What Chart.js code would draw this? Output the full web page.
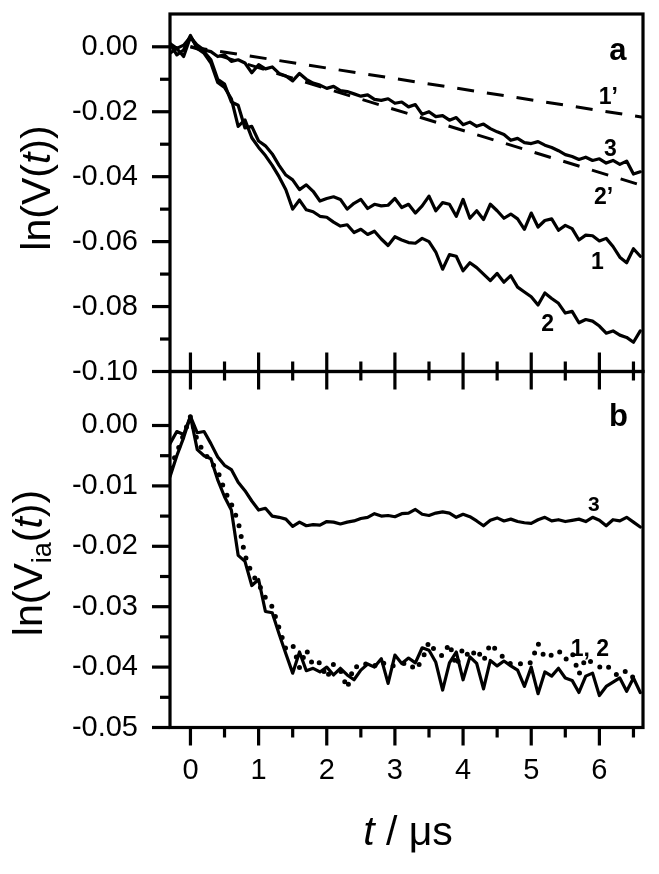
<!DOCTYPE html>
<html><head><meta charset="utf-8">
<script src="https://cdn.jsdelivr.net/npm/chart.js@4.4.0/dist/chart.umd.min.js"></script>
<style>
html,body{margin:0;padding:0;background:#fff;}
#wrap{position:relative;width:659px;height:874px;overflow:hidden;background:#fff;}
canvas{position:absolute;left:0;}
#cTop{top:0;}
#cBot{top:340px;}
</style></head><body>
<div id="wrap"><canvas id="cTop" width="659" height="400"></canvas><canvas id="cBot" width="659" height="534"></canvas></div>
<script>
// ---------- data ----------
const times = [-0.3,-0.2,-0.1,0.0,0.1,0.2,0.3,0.4,0.5,0.6,
  0.7,0.8,0.9,1.0,1.1,1.2,1.3,1.4,1.5,1.6,
  1.7,1.8,1.9,2.0,2.1,2.2,2.3,2.4,2.5,2.6,
  2.7,2.8,2.9,3.0,3.1,3.2,3.3,3.4,3.5,3.6,
  3.7,3.8,3.9,4.0,4.1,4.2,4.3,4.4,4.5,4.6,
  4.7,4.8,4.9,5.0,5.1,5.2,5.3,5.4,5.5,5.6,
  5.7,5.8,5.9,6.0,6.1,6.2,6.3,6.4,6.5,6.6];

// panel a
const a1 = [-0.0020,-0.0005,-0.0030,0.0030,0.0000,-0.0015,-0.0040,-0.0100,-0.0115,-0.0170,
  -0.0180,-0.0250,-0.0245,-0.0290,-0.0305,-0.0330,-0.0365,-0.0395,-0.0410,-0.0440,
  -0.0425,-0.0445,-0.0475,-0.0467,-0.0462,-0.0470,-0.0500,-0.0482,-0.0470,-0.0498,
  -0.0485,-0.0490,-0.0488,-0.0467,-0.0495,-0.0485,-0.0512,-0.0490,-0.0460,-0.0505,
  -0.0480,-0.0485,-0.0522,-0.0470,-0.0528,-0.0505,-0.0532,-0.0485,-0.0505,-0.0528,
  -0.0515,-0.0530,-0.0562,-0.0512,-0.0555,-0.0535,-0.0530,-0.0565,-0.0550,-0.0560,
  -0.0595,-0.0580,-0.0582,-0.0598,-0.0590,-0.0615,-0.0648,-0.0665,-0.0622,-0.0645];
const a2 = [0.0010,-0.0025,-0.0010,0.0035,-0.0005,-0.0020,-0.0050,-0.0110,-0.0125,-0.0160,
  -0.0245,-0.0225,-0.0280,-0.0310,-0.0335,-0.0365,-0.0400,-0.0440,-0.0500,-0.0472,
  -0.0502,-0.0508,-0.0522,-0.0525,-0.0540,-0.0552,-0.0548,-0.0572,-0.0562,-0.0578,
  -0.0568,-0.0592,-0.0612,-0.0585,-0.0595,-0.0603,-0.0605,-0.0590,-0.0600,-0.0632,
  -0.0685,-0.0640,-0.0645,-0.0690,-0.0665,-0.0680,-0.0700,-0.0720,-0.0698,-0.0725,
  -0.0705,-0.0740,-0.0755,-0.0770,-0.0795,-0.0758,-0.0775,-0.0790,-0.0820,-0.0815,
  -0.0850,-0.0840,-0.0845,-0.0860,-0.0882,-0.0875,-0.0888,-0.0895,-0.0910,-0.0875];
const a3 = [0.0010,-0.0005,0.0005,0.0030,0.0005,-0.0010,-0.0015,-0.0030,-0.0025,-0.0045,
  -0.0040,-0.0050,-0.0080,-0.0055,-0.0068,-0.0062,-0.0082,-0.0090,-0.0105,-0.0082,
  -0.0100,-0.0112,-0.0118,-0.0128,-0.0122,-0.0135,-0.0138,-0.0145,-0.0152,-0.0148,
  -0.0162,-0.0165,-0.0160,-0.0174,-0.0170,-0.0185,-0.0178,-0.0208,-0.0200,-0.0215,
  -0.0212,-0.0226,-0.0218,-0.0240,-0.0232,-0.0245,-0.0238,-0.0252,-0.0262,-0.0270,
  -0.0288,-0.0282,-0.0295,-0.0298,-0.0292,-0.0303,-0.0310,-0.0320,-0.0332,-0.0338,
  -0.0347,-0.0340,-0.0350,-0.0345,-0.0358,-0.0350,-0.0362,-0.0352,-0.0392,-0.0385];
const fitTimes = [0.0, 6.64];
const fit1 = [0.0000, -0.0217];
const fit2 = [0.0000, -0.0428];

// panel b
const b3 = [-0.0030,-0.0010,-0.0015,0.0015,-0.0012,-0.0010,-0.0030,-0.0052,-0.0066,-0.0073,
  -0.0094,-0.0108,-0.0125,-0.0140,-0.0137,-0.0150,-0.0152,-0.0155,-0.0167,-0.0160,
  -0.0166,-0.0164,-0.0165,-0.0159,-0.0160,-0.0163,-0.0160,-0.0158,-0.0154,-0.0152,
  -0.0146,-0.0150,-0.0149,-0.0151,-0.0146,-0.0145,-0.0139,-0.0147,-0.0149,-0.0145,
  -0.0143,-0.0145,-0.0152,-0.0147,-0.0151,-0.0158,-0.0166,-0.0157,-0.0153,-0.0158,
  -0.0155,-0.0159,-0.0161,-0.0162,-0.0156,-0.0152,-0.0158,-0.0156,-0.0159,-0.0157,
  -0.0155,-0.0159,-0.0152,-0.0157,-0.0166,-0.0156,-0.0158,-0.0152,-0.0160,-0.0168];
const b1 = [-0.0085,-0.0050,-0.0020,0.0015,-0.0040,-0.0050,-0.0055,-0.0090,-0.0118,-0.0140,
  -0.0215,-0.0225,-0.0265,-0.0255,-0.0308,-0.0310,-0.0345,-0.0378,-0.0410,-0.0375,
  -0.0406,-0.0402,-0.0408,-0.0400,-0.0413,-0.0402,-0.0413,-0.0421,-0.0405,-0.0395,
  -0.0400,-0.0386,-0.0427,-0.0380,-0.0394,-0.0385,-0.0393,-0.0368,-0.0372,-0.0392,
  -0.0438,-0.0393,-0.0375,-0.0421,-0.0383,-0.0394,-0.0436,-0.0389,-0.0398,-0.0390,
  -0.0398,-0.0405,-0.0432,-0.0400,-0.0444,-0.0408,-0.0415,-0.0402,-0.0418,-0.0422,
  -0.0442,-0.0415,-0.0410,-0.0447,-0.0432,-0.0425,-0.0418,-0.0440,-0.0418,-0.0442];
const b2 = [-0.0070,-0.0045,-0.0015,0.0015,-0.0025,-0.0045,-0.0060,-0.0075,-0.0107,-0.0130,
  -0.0159,-0.0215,-0.0245,-0.0262,-0.0285,-0.0300,-0.0335,-0.0370,-0.0363,-0.0401,
  -0.0371,-0.0398,-0.0392,-0.0418,-0.0395,-0.0405,-0.0435,-0.0398,-0.0402,-0.0392,
  -0.0398,-0.0390,-0.0400,-0.0397,-0.0395,-0.0392,-0.0405,-0.0388,-0.0358,-0.0375,
  -0.0382,-0.0361,-0.0398,-0.0368,-0.0385,-0.0370,-0.0390,-0.0361,-0.0373,-0.0385,
  -0.0395,-0.0392,-0.0398,-0.0392,-0.0361,-0.0385,-0.0380,-0.0372,-0.0388,-0.0376,
  -0.0412,-0.0385,-0.0393,-0.0400,-0.0395,-0.0410,-0.0415,-0.0405,-0.0418,-0.0420];

// ticks
const xMajorTicks = [0,1,2,3,4,5,6];
const xMinorTicks = [0.5,1.5,2.5,3.5,4.5,5.5,6.5];
const xTickLabels = ['0','1','2','3','4','5','6'];
const topYTicks = [0.00,-0.02,-0.04,-0.06,-0.08,-0.10];
const topYLabels = ['0.00','-0.02','-0.04','-0.06','-0.08','-0.10'];
const topYMinor = [-0.01,-0.03,-0.05,-0.07,-0.09];
const botYTicks = [0.00,-0.01,-0.02,-0.03,-0.04,-0.05];
const botYLabels = ['0.00','-0.01','-0.02','-0.03','-0.04','-0.05'];
const botYMinor = [-0.005,-0.015,-0.025,-0.035,-0.045];

// annotations (text, data position)
const topNotes = [
  {text:'a', t:6.27, v:-0.0013, size:31},
  {text:'1\u2019', t:6.13, v:-0.0157, size:23},
  {text:'3', t:6.16, v:-0.0318, size:23},
  {text:'2\u2019', t:6.06, v:-0.0465, size:23},
  {text:'1', t:5.97, v:-0.0665, size:23},
  {text:'2', t:5.24, v:-0.0857, size:23}
];
const botNotes = [
  {text:'b', t:6.28, v:0.0013, size:31},
  {text:'3', t:5.92, v:-0.0132, size:21},
  {text:'1, 2', t:5.86, v:-0.0371, size:23}
];

// ---------- drawing ----------
const FONT = '"Liberation Sans", Arial, Helvetica, sans-serif';
const pts = (xs, ys) => xs.map((t, i) => ({x: t, y: ys[i]}));

function solid(d) {
  return {data: d, borderColor:'#000', borderWidth:3.2, pointRadius:0, tension:0, fill:false,
    borderJoinStyle:'round', borderCapStyle:'round'};
}
function dashed(d) {
  return {data: d, borderColor:'#000', borderWidth:3, pointRadius:0, tension:0, fill:false,
    borderDash:[17,13]};
}
function dotted(d) {
  return {data: d, borderColor:'#000', borderWidth:5, pointRadius:0, tension:0, fill:false,
    borderDash:[0,11], borderCapStyle:'round'};
}

function drawParts(ctx, parts, x, y, rot) {
  ctx.save();
  ctx.translate(x, y);
  ctx.rotate(rot);
  let total = 0;
  parts.forEach(p => { ctx.font = p.font; p.w = ctx.measureText(p.text).width; total += p.w; });
  let cx = -total / 2;
  ctx.textAlign = 'left';
  ctx.textBaseline = 'alphabetic';
  ctx.fillStyle = '#000';
  parts.forEach(p => { ctx.font = p.font; ctx.fillText(p.text, cx, p.dy || 0); cx += p.w; });
  ctx.restore();
}

function framePlugin(cfg) {
  return {
    id: 'frameTicks',
    afterDatasetsDraw(chart) {
      const ctx = chart.ctx, a = chart.chartArea, xs = chart.scales.x, ys = chart.scales.y;
      ctx.save();
      ctx.strokeStyle = '#000';
      ctx.lineWidth = 3.2;
      ctx.lineCap = 'butt';
      const seg = (x1, y1, x2, y2) => { ctx.beginPath(); ctx.moveTo(x1, y1); ctx.lineTo(x2, y2); ctx.stroke(); };
      cfg.yMajor.forEach(v => { const y = ys.getPixelForValue(v); seg(a.left - 18, y, a.left, y); });
      cfg.yMinor.forEach(v => { const y = ys.getPixelForValue(v); seg(a.left - 10, y, a.left, y); });
      cfg.xEdges.forEach(e => {
        const yb = e.edge === 'top' ? a.top : a.bottom;
        xMajorTicks.forEach(v => { const x = xs.getPixelForValue(v); seg(x, yb, x, yb + e.dir * e.major); });
        xMinorTicks.forEach(v => { const x = xs.getPixelForValue(v); seg(x, yb, x, yb + e.dir * e.minor); });
      });
      ctx.strokeRect(a.left, a.top, a.right - a.left, a.bottom - a.top);
      ctx.fillStyle = '#000';
      ctx.textAlign = 'center';
      ctx.textBaseline = 'middle';
      cfg.notes.forEach(n => {
        ctx.font = 'bold ' + n.size + 'px ' + FONT;
        ctx.fillText(n.text, xs.getPixelForValue(n.t), ys.getPixelForValue(n.v));
      });
      cfg.titles.forEach(tt => drawParts(ctx, tt.parts, tt.x, tt.y, tt.rot));
      ctx.restore();
    }
  };
}

function yScale(min, max, ticks, labels) {
  return {
    type:'linear', min:min, max:max, position:'left',
    afterFit(s) { s.width = 170; s.paddingTop = 0; s.paddingBottom = 0; s.paddingLeft = 0; s.paddingRight = 0; },
    afterBuildTicks(s) { s.ticks = ticks.map(v => ({value: v})); },
    grid:{display:false, drawTicks:false},
    border:{display:false},
    ticks:{padding:32, color:'#000', autoSkip:false, font:{family:FONT, size:29}, callback:(v, i) => labels[i]}
  };
}

const big = 41, sub = 27;
const commonOpts = {
  responsive:false, animation:false, devicePixelRatio:1, events:[],
  plugins:{legend:{display:false}, tooltip:{enabled:false}, title:{display:false}}
};

new Chart(document.getElementById('cTop'), {
  type:'line',
  data:{datasets:[
    dashed(pts(fitTimes, fit1)),
    dashed(pts(fitTimes, fit2)),
    solid(pts(times, a3)),
    solid(pts(times, a1)),
    solid(pts(times, a2))
  ]},
  options:Object.assign({}, commonOpts, {
    layout:{padding:{left:0, right:16, top:14, bottom:28.5}},
    scales:{
      x:{type:'linear', min:-0.30, max:6.64, display:false},
      y:yScale(-0.10, 0.0101, topYTicks, topYLabels)
    }
  }),
  plugins:[framePlugin({
    yMajor: topYTicks, yMinor: topYMinor,
    xEdges:[{edge:'bottom', dir:-1, major:19, minor:10}],
    notes: topNotes,
    titles:[{x:50, y:188, rot:-Math.PI/2, parts:[
      {text:'ln(V(', font: big + 'px ' + FONT},
      {text:'t', font:'italic ' + big + 'px ' + FONT},
      {text:'))', font: big + 'px ' + FONT}
    ]}]
  })]
});

new Chart(document.getElementById('cBot'), {
  type:'line',
  data:{datasets:[
    solid(pts(times, b3)),
    solid(pts(times, b1)),
    dotted(pts(times, b2))
  ]},
  options:Object.assign({}, commonOpts, {
    layout:{padding:{left:0, right:16, top:31.5, bottom:0}},
    scales:{
      x:{type:'linear', min:-0.30, max:6.64, position:'bottom',
        afterFit(s) { s.height = 146.5; s.paddingLeft = 0; s.paddingRight = 0; s.paddingTop = 0; s.paddingBottom = 0; },
        afterBuildTicks(s) { s.ticks = xMajorTicks.map(v => ({value: v})); },
        grid:{display:false, drawTicks:false}, border:{display:false},
        ticks:{padding:26, maxRotation:0, autoSkip:false, color:'#000', font:{family:FONT, size:29},
          callback:(v, i) => xTickLabels[i]}
      },
      y:yScale(-0.05, 0.00894, botYTicks, botYLabels)
    }
  }),
  plugins:[framePlugin({
    yMajor: botYTicks, yMinor: botYMinor,
    xEdges:[{edge:'top', dir:1, major:18, minor:9}, {edge:'bottom', dir:1, major:18, minor:10}],
    notes: botNotes,
    titles:[
      {x:42, y:223, rot:-Math.PI/2, parts:[
        {text:'ln(V', font: big + 'px ' + FONT},
        {text:'ia', font: sub + 'px ' + FONT, dy:9},
        {text:'(', font: big + 'px ' + FONT},
        {text:'t', font:'italic ' + big + 'px ' + FONT},
        {text:'))', font: big + 'px ' + FONT}
      ]},
      {x:408, y:505, rot:0, parts:[
        {text:'t', font:'italic ' + big + 'px ' + FONT},
        {text:' / \u03BCs', font: big + 'px ' + FONT}
      ]}
    ]
  })]
});
</script></body></html>
